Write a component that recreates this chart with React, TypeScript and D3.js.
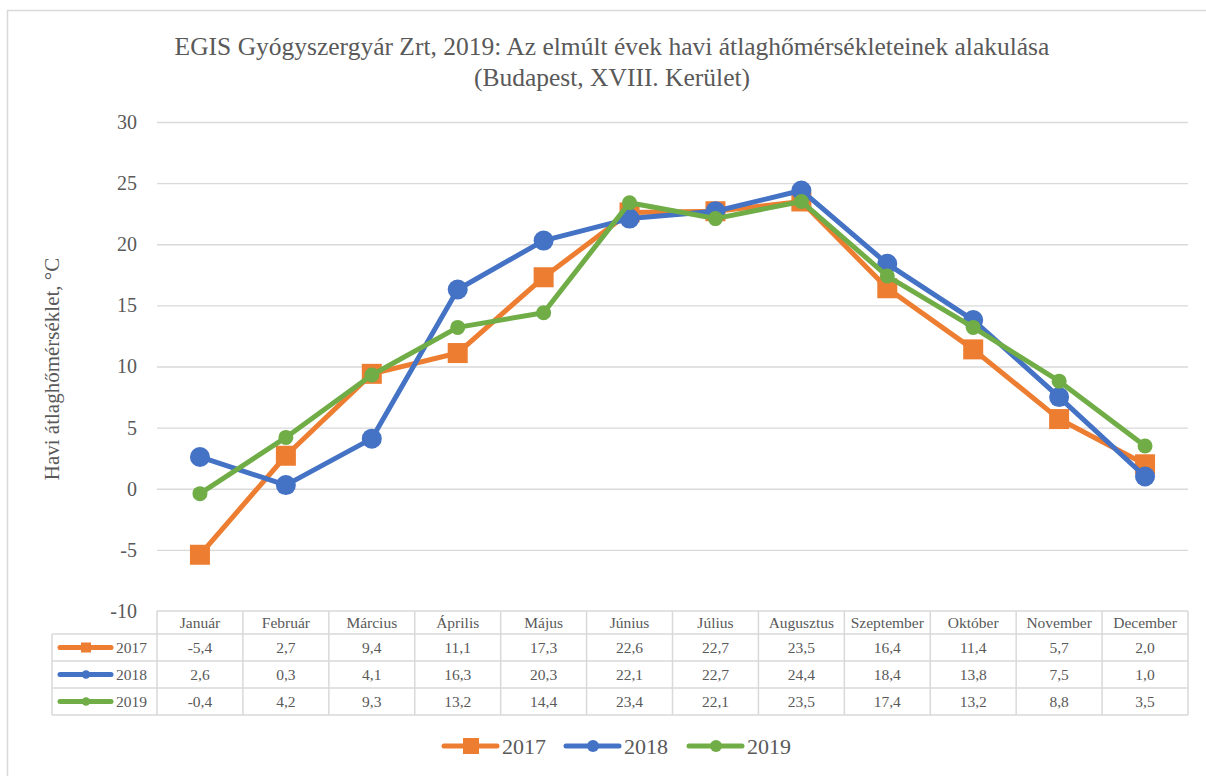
import React, { useEffect, useRef } from "react"
import * as d3 from "d3"

const months = [
  "Január", "Február", "Március", "Április", "Május", "Június",
  "Július", "Augusztus", "Szeptember", "Október", "November", "December",
]
const years = ["2017", "2018", "2019"]
const t2017 = [-5.4, 2.7, 9.4, 11.1, 17.3, 22.6, 22.7, 23.5, 16.4, 11.4, 5.7, 2.0]
const t2018 = [2.6, 0.3, 4.1, 16.3, 20.3, 22.1, 22.7, 24.4, 18.4, 13.8, 7.5, 1.0]
const t2019 = [-0.4, 4.2, 9.3, 13.2, 14.4, 23.4, 22.1, 23.5, 17.4, 13.2, 8.8, 3.5]
const yTicks = [-10, -5, 0, 5, 10, 15, 20, 25, 30]

const colors = ["#ED7D31", "#4472C4", "#70AD47"]
const markers = ["square", "circle", "circle"]
const markerSize = [20, 10, 7.5]

const W = 1206
const H = 776
const font = "'Liberation Serif', 'Times New Roman', serif"
const textColor = "#595959"
const gridColor = "#d9d9d9"

const App: React.FC = () => {
  const svgRef = useRef<SVGSVGElement>(null)

  useEffect(() => {
    const svg = d3.select(svgRef.current)
    svg.selectAll("*").remove()

    const margin = { left: 157, right: 1188, top: 122, bottom: 611 }
    const series = [t2017, t2018, t2019]

    svg.append("rect")
      .attr("x", 7.5).attr("y", 10.5)
      .attr("width", 1210).attr("height", 780)
      .attr("fill", "white").attr("stroke", gridColor).attr("stroke-width", 1.5)

    // title
    const title = svg.append("text")
      .attr("text-anchor", "middle")
      .attr("font-family", font).attr("font-size", 25.5).attr("fill", textColor)
    title.append("tspan").attr("x", 612).attr("y", 55)
      .text("EGIS Gyógyszergyár Zrt, 2019: Az elmúlt évek havi átlaghőmérsékleteinek alakulása")
    title.append("tspan").attr("x", 612).attr("y", 86)
      .text("(Budapest, XVIII. Kerület)")

    const x = d3.scaleBand<string>().domain(months).range([margin.left, margin.right])
    const y = d3.scaleLinear().domain([-10, 30]).range([margin.bottom, margin.top])

    // gridlines + y axis
    const yAxis = svg.append("g")
      .attr("transform", `translate(${margin.left},0)`)
      .call(d3.axisLeft(y).tickValues(yTicks).tickSize(-(margin.right - margin.left)).tickPadding(20)
        .tickFormat((d) => String(d)))
    yAxis.select(".domain").remove()
    yAxis.selectAll(".tick line").attr("stroke", gridColor).attr("stroke-width", 1.3)
    yAxis.selectAll(".tick")
      .filter((d) => d === -10)
      .select("line").remove()
    yAxis.selectAll(".tick text")
      .attr("font-family", font).attr("font-size", 20).attr("fill", textColor)

    svg.append("text")
      .attr("transform", `translate(59,369) rotate(-90)`)
      .attr("text-anchor", "middle")
      .attr("font-family", font).attr("font-size", 21).attr("fill", textColor)
      .text("Havi átlaghőmérséklet, °C")

    const cx = (i: number) => (x(months[i]) || 0) + x.bandwidth() / 2

    const drawMarker = (g: d3.Selection<SVGGElement, unknown, null, undefined>, k: number, px: number, py: number, size?: number) => {
      const s = size ?? markerSize[k]
      if (markers[k] === "square") {
        g.append("rect").attr("x", px - s / 2).attr("y", py - s / 2)
          .attr("width", s).attr("height", s).attr("fill", colors[k])
      } else {
        g.append("circle").attr("cx", px).attr("cy", py)
          .attr("r", s).attr("fill", colors[k])
      }
    }

    // lines
    series.forEach((vals, k) => {
      const g = svg.append("g")
      const line = d3.line<number>().x((_, i) => cx(i)).y((d) => y(d))
      g.append("path").attr("d", line(vals) || "")
        .attr("fill", "none").attr("stroke", colors[k]).attr("stroke-width", 5)
        .attr("stroke-linejoin", "round").attr("stroke-linecap", "round")
      vals.forEach((v, i) => drawMarker(g, k, cx(i), y(v)))
    })

    // data table
    const rowsY = [611, 634, 661, 688, 715]
    const tbl = svg.append("g")
    const tl = (x1: number, y1: number, x2: number, y2: number) =>
      tbl.append("line").attr("x1", x1).attr("y1", y1).attr("x2", x2).attr("y2", y2)
        .attr("stroke", gridColor).attr("stroke-width", 1.5)
    tl(margin.left, rowsY[0], margin.right, rowsY[0])
    for (let r = 1; r < rowsY.length; r++) tl(52, rowsY[r], margin.right, rowsY[r])
    tl(52, rowsY[1], 52, rowsY[4])
    months.forEach((m) => tl(x(m) || 0, rowsY[0], x(m) || 0, rowsY[4]))
    tl(margin.right, rowsY[0], margin.right, rowsY[4])

    const cellText = (px: number, py: number, s: string, anchor = "middle") =>
      tbl.append("text").attr("x", px).attr("y", py).attr("text-anchor", anchor)
        .attr("dominant-baseline", "central")
        .attr("font-family", font).attr("font-size", 15.5).attr("fill", textColor).text(s)

    months.forEach((m, i) => cellText(cx(i), (rowsY[0] + rowsY[1]) / 2, m))
    series.forEach((vals, k) => {
      const ym = (rowsY[k + 1] + rowsY[k + 2]) / 2
      vals.forEach((v, i) => cellText(cx(i), ym, v.toFixed(1).replace(".", ",")))
      const g = tbl.append("g")
      g.append("line").attr("x1", 60).attr("x2", 111).attr("y1", ym).attr("y2", ym)
        .attr("stroke", colors[k]).attr("stroke-width", 5).attr("stroke-linecap", "round")
      drawMarker(g, k, 86, ym, k === 0 ? 10 : 4.2)
      cellText(116, ym, years[k], "start")
    })

    // legend
    const legX = [444, 566, 689]
    years.forEach((yr, k) => {
      const g = svg.append("g")
      const ly = 746
      g.append("line").attr("x1", legX[k]).attr("x2", legX[k] + 53).attr("y1", ly).attr("y2", ly)
        .attr("stroke", colors[k]).attr("stroke-width", 5).attr("stroke-linecap", "round")
      drawMarker(g, k, legX[k] + 27, ly, k === 0 ? 16 : 6)
      g.append("text").attr("x", legX[k] + 58).attr("y", ly).attr("dominant-baseline", "central")
        .attr("font-family", font).attr("font-size", 22).attr("fill", textColor).text(yr)
    })
  }, [])

  return (
    <svg ref={svgRef} width={W} height={H} style={{ position: "absolute", left: 0, top: 0 }} />
  )
}

export default App
